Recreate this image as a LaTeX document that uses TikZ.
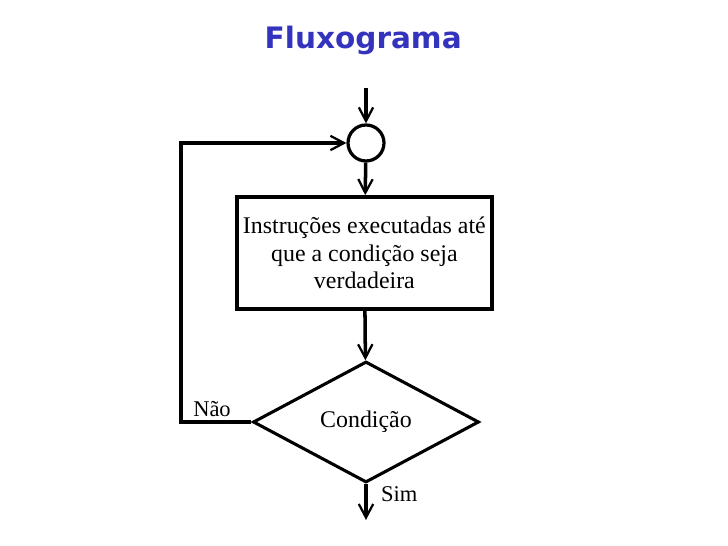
\documentclass[tikz,border=0pt]{standalone}
\usepackage{fontspec}
\setmainfont{Liberation Serif}
\newfontfamily\titlefont{DejaVu Sans}
\usetikzlibrary{positioning,calc}
\usetikzlibrary{arrows.meta,shapes.geometric}
\definecolor{TitleBlue}{RGB}{51,51,190}
\tikzset{
	flow/.style={draw=black,line width=2.5pt,-{Straight Barb[length=3.4mm,width=3.6mm,line width=1.6pt]}},
	loopline/.style={draw=black,line width=2.6pt,line join=miter},
	junction/.style={circle,draw=black,line width=2.3pt,fill=white,minimum size=0.9cm,inner sep=0pt},
	process/.style={rectangle,draw=black,line width=2.6pt,minimum width=6.375cm,minimum height=2.8cm,
		align=center,font=\fontsize{17}{19.5}\selectfont,inner sep=2pt},
	decision/.style={diamond,draw=black,line width=2.2pt,minimum width=5.65cm,minimum height=3.025cm,
		aspect=1.87,inner sep=0pt,font=\fontsize{17}{19.5}\selectfont},
	tag/.style={font=\fontsize{16}{18}\selectfont,inner sep=0pt},
}
\begin{document}
\begin{tikzpicture}
					\useasboundingbox (0,0) rectangle (18.2,13.65);
					\node[text=TitleBlue,font=\titlefont\bfseries\fontsize{21}{25}\selectfont] (title) at (9.08,12.63) {Fluxograma};
					\coordinate (start) at (9.15,11.45);
					\node[junction] (join) at (9.15,10.075) {};
					\node[process] (body) at (9.11,7.325) {Instruções executadas até\\que a condição seja\\verdadeira};
					\node[decision] (cond) at (9.15,3.1) {Condição};
					\coordinate (finish) at (9.15,0.65);
					\coordinate (back) at (4.525,0);
					\foreach \x/\y in {start/join,join/body,body/cond,cond/finish}
					\draw[flow] (\x)--(\y);
					\draw[flow] (cond.west) -| (back |- join) -- (join.west);
					\node[tag] (no) at (5.3,3.42) {Não};
					\node[tag] (yes) at (9.98,1.3) {Sim};
				\end{tikzpicture}
\end{document}
